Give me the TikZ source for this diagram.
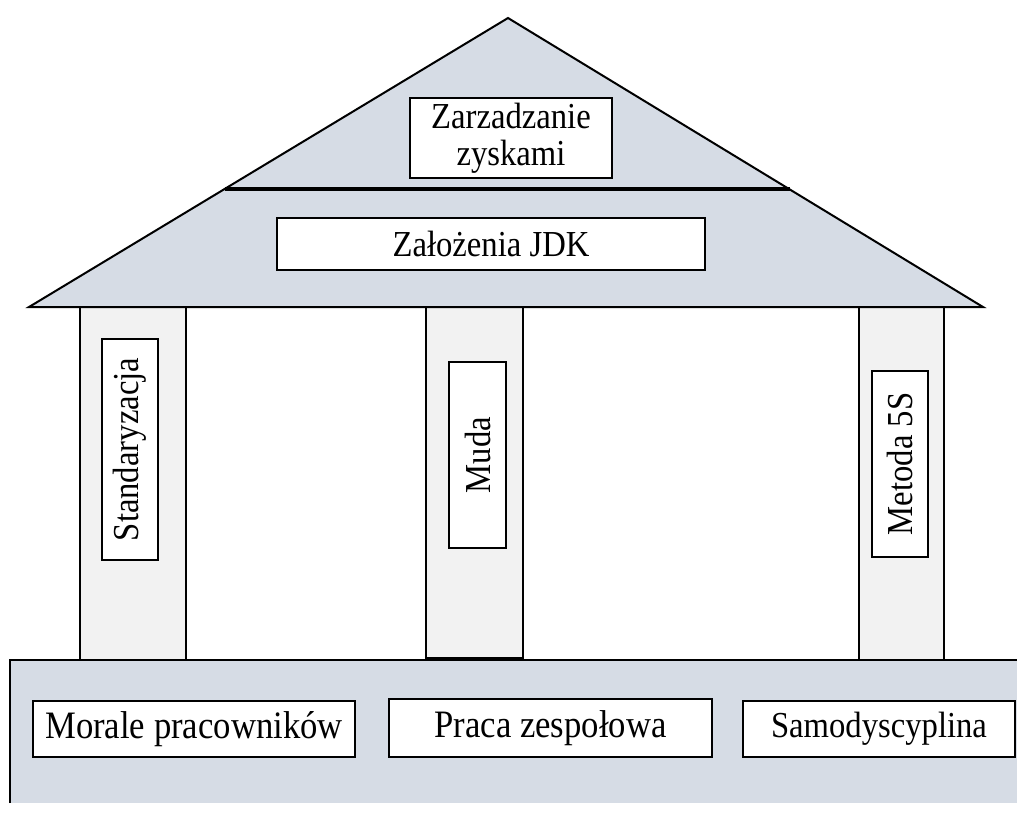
\documentclass[tikz,border=0pt]{standalone}
\usepackage{fontspec}
\usepackage{graphicx}
\setmainfont{Liberation Serif}
\definecolor{roofblue}{HTML}{D6DCE5}
\definecolor{pillargrey}{HTML}{F2F2F2}
% slightly tall lettering for the labels
\newcommand{\tallt}[1]{\scalebox{1}[1.12]{#1}}
\begin{document}
\begin{tikzpicture}[x=0.75pt,y=-0.75pt,
  outline/.style={draw=black,line width=1.5pt,line join=miter},
  pillar/.style={outline,fill=pillargrey},
  label/.style={draw=black,line width=1.2pt,fill=white,inner sep=0pt,
    font=\fontsize{24.5}{29}\selectfont,align=center},
  biglabel/.style={label,font=\fontsize{26}{30}\selectfont},
  vlabel/.style={label,rotate=90}]
\useasboundingbox (0,0) rectangle (1017,819);

% pillars
\draw[pillar] (80,307) rectangle (186,660);
\draw[pillar] (426,307) rectangle (523,658);
\draw[pillar] (859,307) rectangle (944,660);

% roof
\coordinate (eaveL) at (29,307);
\coordinate (apex) at (508,18);
\coordinate (eaveR) at (983,307);
\coordinate (ridgeL) at (225,189);
\coordinate (ridgeR) at (790,189);
\draw[outline,fill=roofblue] (eaveL) -- (apex) -- (eaveR) -- cycle;
\draw[line width=3pt] (ridgeL) -- (ridgeR);

% foundation
\fill[roofblue] (10,660) rectangle (1030,803);
\draw[outline] (10,803) -- (10,660) -- (1030,660);

% roof labels
\node[label,minimum width=202*0.75pt,minimum height=80*0.75pt] (zysk) at (511,138)
  {\tallt{Zarzadzanie}\\[-1pt]\tallt{zyskami}};
\node[label,minimum width=428*0.75pt,minimum height=52*0.75pt] (jdk) at (491,244) {\tallt{Założenia JDK}};

% pillar labels
\node[vlabel,minimum width=221*0.75pt,minimum height=56*0.75pt] (std) at (130,449.5) {\tallt{Standaryzacja}};
\node[vlabel,minimum width=186*0.75pt,minimum height=57*0.75pt] (muda) at (477.5,455) {\tallt{Muda}};
\node[vlabel,minimum width=186*0.75pt,minimum height=56*0.75pt] (m5s) at (900,464) {\tallt{Metoda 5S}};

% foundation labels
\node[biglabel,minimum width=322*0.75pt,minimum height=56*0.75pt] (morale) at (194,729) {\tallt{Morale pracowników}};
\node[biglabel,minimum width=323*0.75pt,minimum height=58*0.75pt] (praca) at (550.5,728) {\tallt{Praca zespołowa}};
\node[label,minimum width=272*0.75pt,minimum height=56*0.75pt] (samo) at (879,729) {\tallt{Samodyscyplina}};
\end{tikzpicture}
\end{document}
